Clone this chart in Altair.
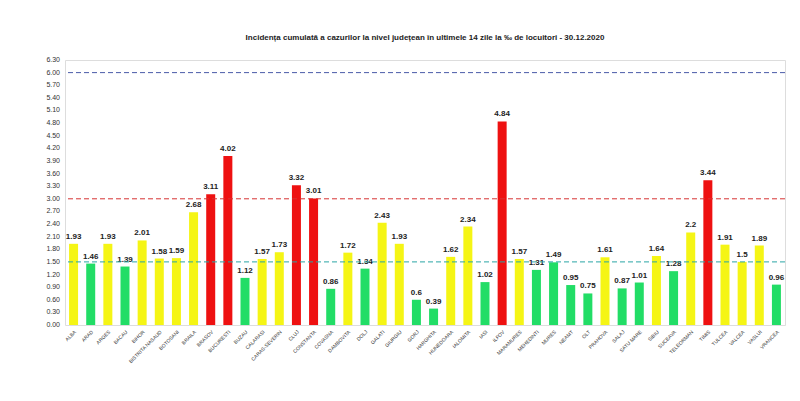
import altair as alt
import pandas as pd

judete = ["ALBA", "ARAD", "ARGES", "BACAU", "BIHOR", "BISTRITA NASAUD", "BOTOSANI", "BRAILA",
          "BRASOV", "BUCURESTI", "BUZAU", "CALARASI", "CARAS-SEVERIN", "CLUJ", "CONSTANTA",
          "COVASNA", "DAMBOVITA", "DOLJ", "GALATI", "GIURGIU", "GORJ", "HARGHITA", "HUNEDOARA",
          "IALOMITA", "IASI", "ILFOV", "MARAMURES", "MEHEDINTI", "MURES", "NEAMT", "OLT",
          "PRAHOVA", "SALAJ", "SATU MARE", "SIBIU", "SUCEAVA", "TELEORMAN", "TIMIS", "TULCEA",
          "VALCEA", "VASLUI", "VRANCEA"]
incidenta = [1.93, 1.46, 1.93, 1.39, 2.01, 1.58, 1.59, 2.68, 3.11, 4.02, 1.12, 1.57, 1.73,
             3.32, 3.01, 0.86, 1.72, 1.34, 2.43, 1.93, 0.6, 0.39, 1.62, 2.34, 1.02, 4.84,
             1.57, 1.31, 1.49, 0.95, 0.75, 1.61, 0.87, 1.01, 1.64, 1.28, 2.2, 3.44, 1.91,
             1.5, 1.89, 0.96]
praguri = [6.0, 3.0, 1.5]
culori_prag = ["#4a5aa8", "#d63333", "#2aa5a5"]
repere_y = [round(i * 0.3, 2) for i in range(22)]

df = pd.DataFrame({"judet": judete, "val": incidenta})
df["nivel"] = ["rosu" if v > 3 else ("galben" if v >= 1.5 else "verde") for v in incidenta]
df["eticheta"] = [f"{v:g}" for v in incidenta]
linii = pd.DataFrame({"y": praguri, "c": culori_prag})
repere = pd.DataFrame({"v": repere_y, "t": [f"{v:.2f}" for v in repere_y]})

x = alt.X("judet:N", sort=judete, title=None,
          axis=alt.Axis(labelAngle=-45, labelFontSize=5, labelColor="#333", ticks=False,
                        domain=False, labelPadding=4))
scala_y = alt.Scale(domain=[0, 6.3], nice=False)
y = alt.Y("val:Q", title=None, scale=scala_y, axis=None)

bars = alt.Chart(df).mark_bar(size=9).encode(
    x=x, y=y,
    color=alt.Color("nivel:N", legend=None,
                    scale=alt.Scale(domain=["rosu", "galben", "verde"],
                                    range=["#ee1111", "#f5f515", "#22dd66"])))
text = alt.Chart(df).mark_text(dy=-7, fontSize=8, fontWeight="bold", color="#222").encode(
    x=alt.X("judet:N", sort=judete), y="val:Q", text="eticheta:N")
rules = alt.Chart(linii).mark_rule(strokeDash=[5, 3], strokeWidth=1).encode(
    y=alt.Y("y:Q", scale=scala_y), color=alt.Color("c:N", scale=None))
ytext = alt.Chart(repere).mark_text(align="right", baseline="middle", fontSize=7,
                                    color="#333").encode(
    x=alt.value(-5), y=alt.Y("v:Q", scale=scala_y), text="t:N")

chart = (bars + text + rules + ytext).properties(
    width=720, height=265, autosize="none",
    padding={"left": 57, "top": 52, "right": 7, "bottom": 68},
    title=alt.TitleParams("Incidența cumulată a cazurilor la nivel județean în ultimele 14 zile la ‰ de locuitori - 30.12.2020",
                          fontSize=8, fontWeight="bold", color="#222", offset=14, anchor="middle"),
).configure_view(stroke=None).configure(font="Liberation Sans")

chart.save("out.html", embed_options={"renderer": "svg", "actions": False})
